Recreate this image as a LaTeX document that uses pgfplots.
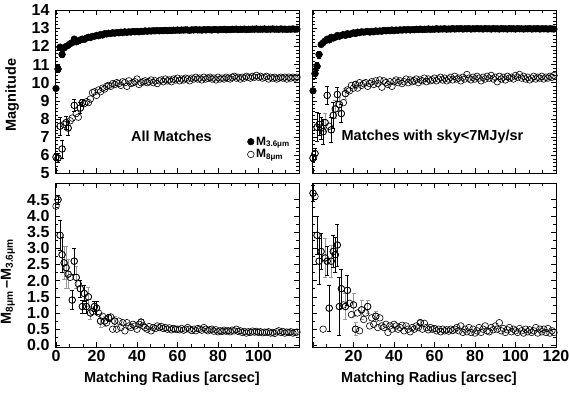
\documentclass[border=0pt]{standalone}
\usepackage{fontspec}
\setmainfont{Liberation Sans}
\usepackage{pgfplots}
\usepackage{pgfplotstable}
\pgfplotsset{compat=1.18}
\usepgfplotslibrary{groupplots}

% ---------------- top-left: all matches ----------------
\pgfplotstableread{
x y
0 9.68
1 10.75
2 11.95
3 11.55
4 11.9
5 12.0
6 12.05
7 12.15
8 12.2
9 12.4
10 12.25
11 12.3
12 12.35
13 12.4
14 12.38
15 12.45
16 12.5
17 12.48
18 12.55
19 12.55
20 12.6
21 12.58
22 12.65
23 12.62
24 12.7
25 12.68
26 12.72
27 12.7
28 12.75
29 12.72
30 12.76
31 12.74
32 12.78
33 12.75
34 12.8
35 12.77
36 12.8
37 12.78
38 12.82
39 12.8
40 12.82
41 12.8
42 12.83
43 12.82
44 12.85
45 12.83
46 12.85
47 12.84
48 12.86
49 12.85
50 12.87
51 12.85
52 12.87
53 12.86
54 12.88
55 12.86
56 12.88
57 12.87
58 12.89
59 12.88
60 12.9
61 12.88
62 12.9
63 12.89
64 12.91
65 12.9
66 12.88
67 12.91
68 12.9
69 12.92
70 12.9
71 12.91
72 12.89
73 12.92
74 12.9
75 12.93
76 12.91
77 12.9
78 12.93
79 12.92
80 12.9
81 12.93
82 12.92
83 12.94
84 12.91
85 12.93
86 12.92
87 12.94
88 12.93
89 12.95
90 12.92
91 12.94
92 12.93
93 12.95
94 12.92
95 12.94
96 12.93
97 12.95
98 12.94
99 12.96
100 12.93
101 12.95
102 12.94
103 12.96
104 12.93
105 12.95
106 12.94
107 12.96
108 12.94
109 12.95
110 12.93
111 12.96
112 12.94
113 12.95
114 12.93
115 12.95
116 12.94
117 12.96
118 12.94
119 12.95
}\TLb

\pgfplotstableread{
x y e
1 10.75 0.2
2 11.95 0.15
3 11.55 0.15
}\TLbE

\pgfplotstableread{
x y
0 5.9
1 5.85
2 7.6
3 6.35
4 7.7
5 7.8
6 7.5
7 7.9
8 8.05
9 8.75
10 8.3
11 8.1
12 8.6
13 8.9
14 8.85
15 8.95
16 8.9
17 9.1
18 9.45
19 9.5
20 9.3
21 9.6
22 9.5
23 9.7
24 9.65
25 9.8
26 9.85
27 9.8
28 9.95
29 9.9
30 10.0
31 9.95
32 9.85
33 10.05
34 10.0
35 9.8
36 10.1
37 9.95
38 10.0
39 10.05
40 10.2
41 9.9
42 10.0
43 10.05
44 10.1
45 10.0
46 10.05
47 10.15
48 10.0
49 10.1
50 9.95
51 10.1
52 10.15
53 10.05
54 10.2
55 10.1
56 10.15
57 10.05
58 10.2
59 10.15
60 10.25
61 10.1
62 10.2
63 10.15
64 10.25
65 10.2
66 10.1
67 10.25
68 10.2
69 10.3
70 10.2
71 10.25
72 10.15
73 10.3
74 10.2
75 10.25
76 10.3
77 10.2
78 10.25
79 10.15
80 10.3
81 10.2
82 10.25
83 10.2
84 10.3
85 10.25
86 10.2
87 10.3
88 10.35
89 10.25
90 10.3
91 10.2
92 10.3
93 10.25
94 10.35
95 10.3
96 10.25
97 10.35
98 10.3
99 10.4
100 10.3
101 10.35
102 10.25
103 10.3
104 10.35
105 10.2
106 10.3
107 10.25
108 10.3
109 10.2
110 10.25
111 10.3
112 10.25
113 10.3
114 10.2
115 10.3
116 10.25
117 10.3
118 10.25
119 10.3
}\TLo

\pgfplotstableread{
x y e
0 5.9 0.2
1 5.85 0.25
2 7.6 0.5
3 6.35 0.5
5 7.8 0.35
6 7.5 0.4
9 8.75 0.35
12 8.6 0.3
13 8.9 0.2
}\TLoE

% ---------------- top-right: sky < 7 MJy/sr ----------------
\pgfplotstableread{
x y
0 9.55
1 10.5
2 10.9
3 11.55
4 12.1
5 12.2
6 12.3
7 12.4
8 12.35
9 12.5
10 12.45
11 12.5
12 12.6
13 12.55
14 12.6
15 12.65
16 12.6
17 12.7
18 12.65
19 12.7
20 12.75
21 12.7
22 12.78
23 12.75
24 12.8
25 12.78
26 12.8
27 12.82
28 12.78
29 12.82
30 12.8
31 12.85
32 12.82
33 12.85
34 12.83
35 12.88
36 12.85
37 12.88
38 12.86
39 12.9
40 12.86
41 12.9
42 12.88
43 12.91
44 12.89
45 12.92
46 12.9
47 12.93
48 12.9
49 12.92
50 12.91
51 12.94
52 12.92
53 12.95
54 12.92
55 12.94
56 12.93
57 12.96
58 12.93
59 12.95
60 12.94
61 12.97
62 12.94
63 12.96
64 12.95
65 12.97
66 12.94
67 12.96
68 12.95
69 12.98
70 12.95
71 12.97
72 12.96
73 12.98
74 12.95
75 12.97
76 12.96
77 12.98
78 12.95
79 12.97
80 12.96
81 12.98
82 12.96
83 12.97
84 12.95
85 12.98
86 12.96
87 12.97
88 12.95
89 12.98
90 12.96
91 12.97
92 12.95
93 12.98
94 12.96
95 12.97
96 12.95
97 12.98
98 12.96
99 12.97
100 12.95
101 12.98
102 12.96
103 12.97
104 12.95
105 12.97
106 12.96
107 12.98
108 12.95
109 12.97
110 12.96
111 12.98
112 12.95
113 12.97
114 12.96
115 12.97
116 12.95
117 12.97
118 12.96
119 12.95
}\TRb

\pgfplotstableread{
x y e
1 10.5 0.25
2 10.9 0.2
3 11.55 0.2
}\TRbE

\pgfplotstableread{
x y
0 5.85
1 6.1
2 7.55
3 7.7
4 7.5
5 7.3
6 7.8
7 9.3
8 7.6
9 7.4
10 8.2
11 8.55
12 9.35
13 8.8
14 8.3
15 8.9
16 9.4
17 9.6
18 9.55
19 9.85
20 9.7
21 9.9
22 9.7
23 10.0
24 9.85
25 9.95
26 10.0
27 9.8
28 9.95
29 10.05
30 9.9
31 10.1
32 9.95
33 10.15
34 9.75
35 10.1
36 10.0
37 9.9
38 10.05
39 9.8
40 10.05
41 10.15
42 10.0
43 10.1
44 9.95
45 10.05
46 10.2
47 10.0
48 10.15
49 10.05
50 10.1
51 10.2
52 10.0
53 10.15
54 10.1
55 10.25
56 10.05
57 10.2
58 10.1
59 10.15
60 10.25
61 10.1
62 10.2
63 10.3
64 10.15
65 10.25
66 10.1
67 10.2
68 10.3
69 10.15
70 10.35
71 10.2
72 10.25
73 10.1
74 10.3
75 10.2
76 10.45
77 10.25
78 10.15
79 10.3
80 10.2
81 10.35
82 10.25
83 10.1
84 10.3
85 10.2
86 10.35
87 10.25
88 10.4
89 10.2
90 10.3
91 10.05
92 10.35
93 10.2
94 10.3
95 10.15
96 10.35
97 10.25
98 10.3
99 10.2
100 10.4
101 10.3
102 10.45
103 10.25
104 10.35
105 10.2
106 10.3
107 10.15
108 10.25
109 10.35
110 10.2
111 10.3
112 10.25
113 10.35
114 10.2
115 10.3
116 10.25
117 10.35
118 10.3
119 10.4
}\TRo

\pgfplotstableread{
x y e
0 5.85 0.2
1 6.1 0.3
2 7.55 0.8
3 7.7 0.6
4 7.5 0.6
5 7.3 0.7
7 9.3 0.5
9 7.4 0.7
10 8.2 0.7
12 9.35 0.4
14 8.3 0.5
}\TRoE

\pgfplotstableread{
x y e
6 7.8 0.5
11 8.55 0.5
13 8.8 0.4
16 9.4 0.3
21 9.9 0.2
}\TRoG

% ---------------- bottom-left: colour, all matches ----------------
\pgfplotstableread{
x y
0 4.3
1 4.5
2 3.4
3 2.8
4 2.55
5 2.4
6 2.2
7 2.1
8 1.4
9 2.6
10 2.1
11 1.9
12 1.75
13 1.2
14 1.6
15 1.2
16 1.5
17 1.0
18 1.05
19 1.2
20 1.15
21 1.0
22 0.75
23 0.9
24 0.75
25 0.7
26 0.85
27 0.88
28 0.5
29 0.75
30 0.5
31 0.75
32 0.55
33 0.7
34 0.45
35 0.7
36 0.6
37 0.55
38 0.65
39 0.6
40 0.5
41 0.65
42 0.72
43 0.6
44 0.55
45 0.5
46 0.58
47 0.45
48 0.55
49 0.52
50 0.6
51 0.55
52 0.58
53 0.52
54 0.55
55 0.5
56 0.54
57 0.48
58 0.52
59 0.5
60 0.5
61 0.48
62 0.52
63 0.47
64 0.5
65 0.55
66 0.5
67 0.46
68 0.5
69 0.45
70 0.52
71 0.5
72 0.47
73 0.55
74 0.5
75 0.45
76 0.48
77 0.5
78 0.44
79 0.48
80 0.42
81 0.45
82 0.43
83 0.47
84 0.44
85 0.45
86 0.42
87 0.47
88 0.45
89 0.5
90 0.43
91 0.45
92 0.4
93 0.43
94 0.38
95 0.42
96 0.4
97 0.44
98 0.41
99 0.43
100 0.4
101 0.42
102 0.39
103 0.41
104 0.4
105 0.42
106 0.38
107 0.4
108 0.37
109 0.42
110 0.45
111 0.4
112 0.43
113 0.38
114 0.41
115 0.4
116 0.42
117 0.38
118 0.4
119 0.41
}\BL

\pgfplotstableread{
x y e
1 4.5 0.15
2 3.4 0.45
3 2.8 0.55
8 1.4 0.3
9 2.6 0.4
12 1.75 0.25
13 1.2 0.2
14 1.6 0.25
15 1.2 0.2
19 1.2 0.15
20 1.15 0.2
26 0.85 0.1
}\BLE

\pgfplotstableread{
x y e
4 2.55 0.5
5 2.4 0.65
6 2.2 0.45
10 2.1 0.35
16 1.5 0.3
17 1.0 0.2
22 0.75 0.2
24 0.75 0.15
29 0.75 0.15
42 0.72 0.08
}\BLG

% ---------------- bottom-right: colour, sky < 7 MJy/sr ----------------
\pgfplotstableread{
x y
0 4.7
1 4.6
2 3.4
3 2.6
4 2.9
5 0.5
6 2.7
7 2.6
8 1.15
9 2.6
10 2.9
11 2.8
12 3.1
13 1.2
14 1.75
15 1.25
16 1.2
17 1.7
18 1.3
19 0.95
20 1.25
21 0.5
22 1.0
23 0.45
24 1.1
25 0.8
26 1.0
27 1.2
28 0.6
29 0.85
30 0.65
31 0.9
32 0.55
33 0.85
34 0.6
35 0.55
36 0.65
37 0.4
38 0.6
39 0.5
40 0.65
41 0.6
42 0.5
43 0.55
44 0.62
45 0.45
46 0.6
47 0.5
48 0.42
49 0.55
50 0.5
51 0.6
52 0.55
53 0.7
54 0.5
55 0.68
56 0.55
57 0.48
58 0.55
59 0.5
60 0.52
61 0.45
62 0.5
63 0.42
64 0.5
65 0.45
66 0.48
67 0.44
68 0.5
69 0.46
70 0.5
71 0.55
72 0.45
73 0.6
74 0.4
75 0.5
76 0.42
77 0.55
78 0.4
79 0.5
80 0.38
81 0.45
82 0.55
83 0.4
84 0.5
85 0.6
86 0.45
87 0.42
88 0.55
89 0.48
90 0.6
91 0.5
92 0.7
93 0.45
94 0.52
95 0.4
96 0.48
97 0.55
98 0.42
99 0.5
100 0.45
101 0.4
102 0.52
103 0.45
104 0.38
105 0.5
106 0.42
107 0.48
108 0.4
109 0.45
110 0.55
111 0.38
112 0.5
113 0.42
114 0.5
115 0.4
116 0.52
117 0.38
118 0.45
119 0.4
}\BR

\pgfplotstableread{
x y e
0 4.7 0.25
2 3.4 0.6
3 2.6 0.7
4 2.9 0.55
7 2.6 0.45
8 1.15 0.7
10 2.9 0.5
11 2.8 0.55
12 3.1 0.65
13 1.2 0.9
14 1.75 0.6
17 1.7 0.45
}\BRE

\pgfplotstableread{
x y e
6 2.7 0.6
9 2.6 0.5
16 1.2 0.4
20 1.25 0.35
21 0.5 0.2
24 1.1 0.3
27 1.2 0.2
31 0.9 0.15
53 0.7 0.08
}\BRG

\pgfplotsset{
  filledm/.style={only marks, mark=*, mark size=3.3pt,
    mark options={fill=black, draw=black, line width=0.5pt}},
  openm/.style={only marks, mark=o, mark size=3.3pt,
    mark options={draw=black, line width=0.6pt}},
  errb/.style={error bars/y dir=both, error bars/y explicit,
    error bars/error bar style={line width=0.6pt, black},
    error bars/error mark options={rotate=90, mark size=2pt, line width=0.6pt, black}},
  errg/.style={error bars/y dir=both, error bars/y explicit,
    error bars/error bar style={line width=0.6pt, black!40},
    error bars/error mark options={rotate=90, mark size=2pt, line width=0.6pt, black!40}},
}

\begin{document}
\begin{tikzpicture}
\begin{groupplot}[
  group style={group size=2 by 2, horizontal sep=13pt, vertical sep=10pt},
  scale only axis, width=244pt, height=163.5pt,
  xmin=-0.5, xmax=120,
  xtick={0,20,...,120}, minor x tick num=2,
  tick align=inside, major tick length=5pt, minor tick length=3pt,
  every tick/.style={black, line width=0.6pt},
  axis line style={line width=0.8pt},
  ticklabel style={font=\fontsize{16}{16}\selectfont\bfseries},
  yticklabel style={xshift=-2pt},
  label style={font=\fontsize{14.5}{15}\selectfont\bfseries},
  clip=false,
]
% ---- top left
\nextgroupplot[ymin=5, ymax=14, ytick={5,6,7,8,9,10,11,12,13,14},
  yticklabels={5,6,7,8,9,10,11,12,13,14}, minor y tick num=4,
  xticklabels={},
  ylabel={Magnitude},
  ylabel style={at={(axis description cs:-0.176,0.48)}, anchor=center},
  legend style={draw=none, fill=none, at={(axis cs:93,7.25)}, anchor=north west,
    font=\fontsize{12}{14}\selectfont\bfseries, row sep=-1pt},
  legend cell align=left]
\coordinate (tl) at (rel axis cs:0,1);
\addplot[forget plot, filledm, errb] table[y error=e] {\TLbE};
\addplot[forget plot, openm, errb] table[y error=e] {\TLoE};
\addplot[filledm] table {\TLb};
\addlegendentry{M\textsubscript{3.6μm}}
\addplot[openm] table {\TLo};
\addlegendentry{M\textsubscript{8μm}}
\node[font=\fontsize{14.5}{15}\selectfont\bfseries] at (axis cs:57,7.05) {All Matches};

% ---- top right
\nextgroupplot[ymin=5, ymax=14, ytick={5,6,7,8,9,10,11,12,13,14},
  yticklabels={}, minor y tick num=4, xticklabels={}]
\addplot[filledm, errb] table[y error=e] {\TRbE};
\addplot[openm, errg] table[y error=e] {\TRoG};
\addplot[openm, errb] table[y error=e] {\TRoE};
\addplot[filledm] table {\TRb};
\addplot[openm] table {\TRo};
\node[font=\fontsize{14.5}{15}\selectfont\bfseries] at (axis cs:59,7.05) {Matches with sky<7MJy/sr};

% ---- bottom left
\nextgroupplot[ymin=-0.05, ymax=5,
  ytick={0,0.5,1,1.5,2,2.5,3,3.5,4,4.5},
  yticklabels={0.0,0.5,1.0,1.5,2.0,2.5,3.0,3.5,4.0,4.5}, minor y tick num=1,
  xticklabels={0,20,40,60,80,100,},
  xlabel={Matching Radius [arcsec]},
  xlabel style={at={(rel axis cs:0.5,0)}, anchor=center, yshift=-32pt, xshift=-5pt},
  ylabel={M\textsubscript{8μm}\,–M\textsubscript{3.6μm}},
  ylabel style={at={(axis description cs:-0.193,0.40)}, anchor=center}]
\addplot[openm, errg] table[y error=e] {\BLG};
\addplot[openm, errb] table[y error=e] {\BLE};
\addplot[openm] table {\BL};

% ---- bottom right
\nextgroupplot[ymin=-0.05, ymax=5,
  ytick={0,0.5,1,1.5,2,2.5,3,3.5,4,4.5},
  yticklabels={}, minor y tick num=1,
  xticklabels={,20,40,60,80,100,120},
  xlabel={Matching Radius [arcsec]},
  xlabel style={at={(rel axis cs:0.5,0)}, anchor=center, yshift=-32pt, xshift=-5pt}]
\addplot[openm, errg] table[y error=e] {\BRG};
\addplot[openm, errb] table[y error=e] {\BRE};
\addplot[openm] table {\BR};
\end{groupplot}
\pgfresetboundingbox
\path ([shift={(-55pt,10pt)}]tl) rectangle ++(570pt,-397pt);
\end{tikzpicture}
\end{document}
